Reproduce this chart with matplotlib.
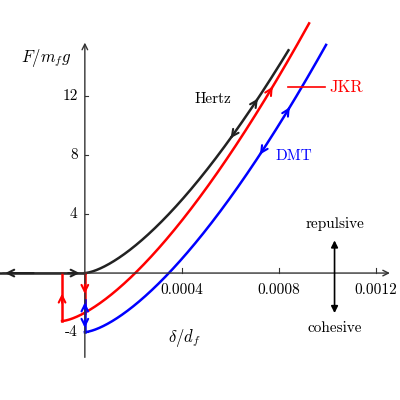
import numpy as np
import matplotlib
matplotlib.use("Agg")
import matplotlib.pyplot as plt

plt.rcParams['font.family'] = ['cmr10', 'DejaVu Serif']
plt.rcParams['mathtext.fontset'] = 'cm'
plt.rcParams['axes.unicode_minus'] = False

# model parameters
K = 6.2e5            # Hertz stiffness: F = K * delta^1.5
DMT_adh = 4.0        # DMT pull-off force offset
JKR_shift = 9.4e-5   # JKR delta at jump-off
JKR_adh = 3.25       # JKR force at jump-off
delta_max = [0.00084, 0.000925, 0.000995]
xticks = [0.0004, 0.0008, 0.0012]
xtick_labels = ["0.0004", "0.0008", "0.0012"]
yticks = [-4, 4, 8, 12]
ytick_labels = ["-4", "4", "8", "12"]

fig = plt.figure(figsize=(4, 4), dpi=100)
ax = fig.add_axes([0, 0, 1, 1])
ax.set_xlim(-0.00035, 0.00130)
ax.set_ylim(-8.6, 18.5)
ax.axis('off')

# axes with arrows
ax.annotate('', xy=(0.00127, 0), xytext=(-0.00035, 0),
            arrowprops=dict(arrowstyle='->', color='#333', lw=1))
ax.annotate('', xy=(0, 15.8), xytext=(0, -5.9),
            arrowprops=dict(arrowstyle='->', color='#333', lw=1))
for x, l in zip(xticks, xtick_labels):
    ax.plot([x, x], [0, 0.35], color='#333', lw=0.8)
    ax.text(x, -0.7, l, ha='center', va='top', fontsize=11)
for y, l in zip(yticks, ytick_labels):
    ax.plot([0, 0.000015], [y, y], color='#333', lw=0.8)
    ax.text(-0.00003, y, l, ha='right', va='center', fontsize=11)

def arrow_on(xs, ys, i, color, rev=False):
    a, b = (i + 1, i) if rev else (i, i + 1)
    ax.annotate('', xy=(xs[b], ys[b]), xytext=(xs[a], ys[a]),
                arrowprops=dict(arrowstyle='->', color=color, lw=1.5, mutation_scale=12))

lw = 1.8
# Hertz
d = np.linspace(0, delta_max[0], 300)
F = K * d**1.5
ax.plot(d, F, color='#222', lw=lw)
ax.plot([-0.00035, 0], [0, 0], color='#222', lw=lw)
ax.annotate('', xy=(-0.00034, 0), xytext=(-0.0002, 0),
            arrowprops=dict(arrowstyle='->', color='#222', lw=1.5, mutation_scale=12))
ax.annotate('', xy=(-0.00001, 0), xytext=(-0.00008, 0),
            arrowprops=dict(arrowstyle='->', color='#222', lw=1.5, mutation_scale=12))
i = np.searchsorted(d, 0.00071); arrow_on(d, F, i, '#222')
i = np.searchsorted(d, 0.0006); arrow_on(d, F, i, '#222', rev=True)

# JKR
d = np.linspace(-JKR_shift, delta_max[1], 300)
F = K * (d + JKR_shift)**1.5 - JKR_adh
ax.plot(d, F, color='red', lw=lw)
ax.plot([-JKR_shift, -JKR_shift], [0, -JKR_adh], color='red', lw=lw)
ax.plot([0, 0], [0, K * JKR_shift**1.5 - JKR_adh], color='red', lw=lw)
ax.annotate('', xy=(-JKR_shift, -1.2), xytext=(-JKR_shift, -2.2),
            arrowprops=dict(arrowstyle='->', color='red', lw=1.5, mutation_scale=12))
ax.annotate('', xy=(0, -1.6), xytext=(0, -0.6),
            arrowprops=dict(arrowstyle='->', color='red', lw=1.5, mutation_scale=12))
i = np.searchsorted(d, 0.00077); arrow_on(d, F, i, 'red')

# DMT
d = np.linspace(0, delta_max[2], 300)
F = K * d**1.5 - DMT_adh
ax.plot(d, F, color='blue', lw=lw)
ax.plot([0, 0], [-DMT_adh, -1.8], color='blue', lw=lw)
ax.annotate('', xy=(0, -1.8), xytext=(0, -2.6),
            arrowprops=dict(arrowstyle='->', color='blue', lw=1.5, mutation_scale=12))
ax.annotate('', xy=(0, -3.9), xytext=(0, -3.0),
            arrowprops=dict(arrowstyle='->', color='blue', lw=1.5, mutation_scale=12))
i = np.searchsorted(d, 0.00084); arrow_on(d, F, i, 'blue')
i = np.searchsorted(d, 0.00072); arrow_on(d, F, i, 'blue', rev=True)

# labels
ax.text(0.00053, 11.8, 'Hertz', fontsize=11, ha='center', va='center')
ax.text(0.00101, 12.6, 'JKR', fontsize=12, color='red', ha='left', va='center')
ax.plot([0.00084, 0.00099], [12.6, 12.6], color='red', lw=1.2)
ax.text(0.00086, 7.9, 'DMT', fontsize=11, color='blue', ha='center', va='center')
ax.text(-0.00016, 14.6, r'$F/m_fg$', fontsize=12, ha='center', va='center')
ax.text(0.00041, -4.4, r'$\delta/d_f$', fontsize=12, ha='center', va='center')
ax.text(0.00103, 3.3, 'repulsive', fontsize=11, ha='center', va='center')
ax.text(0.00103, -3.7, 'cohesive', fontsize=11, ha='center', va='center')
ax.annotate('', xy=(0.00103, 2.4), xytext=(0.00103, -2.9),
            arrowprops=dict(arrowstyle='<|-|>', color='black', lw=1.2, mutation_scale=10))

fig.savefig('out.png', dpi=100, facecolor='white')
